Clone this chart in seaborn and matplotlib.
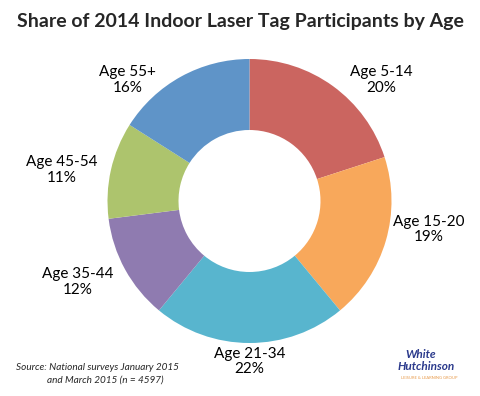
import numpy as np
import pandas as pd
import matplotlib
matplotlib.use("Agg")
import matplotlib.pyplot as plt
import seaborn as sns

# Data
age_groups = ["Age 5-14", "Age 15-20", "Age 21-34", "Age 35-44", "Age 45-54", "Age 55+"]
shares = [20, 19, 22, 12, 11, 16]
slice_colors = ["#CB6560", "#F8A85B", "#58B5CE", "#8F7BB0", "#ADC46D", "#5F94C8"]

# label centres, in units of the outer radius (layout only)
label_pos = [(0.93, 0.85), (1.26, -0.20), (0.0, -1.13), (-1.21, -0.57), (-1.32, 0.22), (-0.86, 0.85)]

TITLE = "Share of 2014 Indoor Laser Tag Participants by Age"
SOURCE_1 = "Source: National surveys January 2015"
SOURCE_2 = "and March 2015 (n = 4597)"

df = pd.DataFrame({"age": age_groups, "share": shares})

sns.set_style("white")
plt.rcParams["font.family"] = ["Lato", "DejaVu Sans"]

fig = plt.figure(figsize=(4.8, 3.96), dpi=100)
ax = fig.add_axes([0, 0, 1, 1])

wedges, _ = ax.pie(df["share"], colors=slice_colors, startangle=90, counterclock=False,
                   radius=1.0, wedgeprops=dict(width=0.5, edgecolor="none"))

# donut centre at pixel (249.5, 201), outer radius 142 px
# (pie() resets the limits, so set them afterwards)
R = 142.0
cx, cy = 249.5, 201.0
ax.set_xlim(-cx / R, (480 - cx) / R)
ax.set_ylim(-(396 - cy) / R, cy / R)
ax.set_aspect("equal")
ax.axis("off")

for (x, y), name, val in zip(label_pos, df["age"], df["share"]):
    ax.text(x, y, f"{name}\n{val}%", ha="center", va="center", fontsize=11,
            linespacing=1.15, color="black")

fig.text(240 / 480, 1 - 22 / 396, TITLE, ha="center", va="center", fontsize=14,
         fontweight="bold")

fig.text(16 / 480, 1 - 367 / 396, SOURCE_1, ha="left", va="center", fontsize=7.2,
         style="italic")
fig.text(47 / 480, 1 - 380 / 396, SOURCE_2, ha="left", va="center", fontsize=7.2,
         style="italic")

# rough stand-in for the company logo
fig.text(405 / 480, 1 - 355 / 396, "White", ha="left", va="center", fontsize=8.5,
         fontweight="bold", style="italic", color="#2B3A8C")
fig.text(398 / 480, 1 - 366 / 396, "Hutchinson", ha="left", va="center", fontsize=8.5,
         fontweight="bold", style="italic", color="#2B3A8C")
fig.text(401 / 480, 1 - 378 / 396, "LEISURE & LEARNING GROUP", ha="left", va="center",
         fontsize=3, color="#E89A4A")

fig.savefig("out.png", dpi=100)
